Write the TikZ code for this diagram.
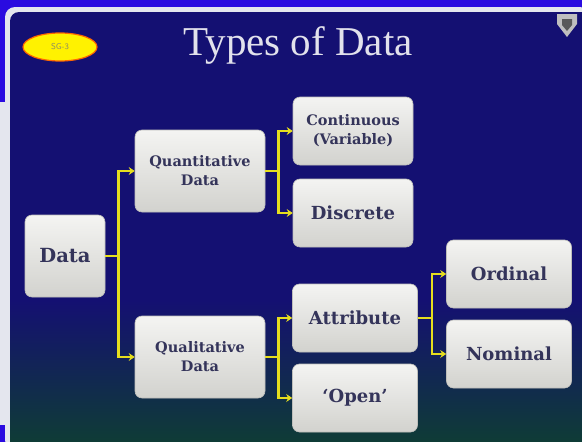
\documentclass[tikz,border=0pt]{standalone}
\usepackage{fontspec}
\setmainfont{Liberation Serif}
\newfontfamily\slabfont{DejaVu Serif}
\usetikzlibrary{arrows.meta,shapes.geometric}

% Kleuren
\definecolor{outerblue}{HTML}{2A0BE0}
\definecolor{framegrey}{HTML}{E4E6EE}
\definecolor{panelnavy}{HTML}{141072}
\definecolor{panelteal}{HTML}{0F3C36}
\definecolor{titlegrey}{HTML}{E2E2EC}
\definecolor{boxtop}{HTML}{F4F4F2}
\definecolor{boxbot}{HTML}{D2D2CE}
\definecolor{boxedge}{HTML}{BEBEBA}
\definecolor{boxtext}{HTML}{34345A}
\definecolor{linkyellow}{HTML}{E6DE1E}

\begin{document}
\begin{tikzpicture}[x=1pt, y=-1pt]
    % Blokken en verbindingen
    \tikzset{box/.style={rectangle, rounded corners=7pt, top color=boxtop, bottom color=boxbot,
                draw=boxedge, line width=0.6pt, text=boxtext, align=center, inner sep=0pt},
             link/.style={draw=linkyellow, line width=2.6pt, -{Stealth[length=6pt,width=8pt]}}}

    \useasboundingbox (0,0) rectangle (582,442);

    % Achtergrond
    \fill[outerblue] (0,0) rectangle (582,442);
    \fill[framegrey] (0,102) rectangle (10,425);
    \fill[framegrey, rounded corners=10pt] (5,7) rectangle (590,450);
    \fill[panelnavy, rounded corners=9pt] (10,12) rectangle (590,450);
    \shade[top color=panelnavy, bottom color=panelteal] (10,300) rectangle (582,442);

    % Titel, badge en icoon
    \node[anchor=base, font=\fontsize{41}{44}\selectfont, text=titlegrey] (title) at (298,55) {Types of Data};
    \node[ellipse, fill=yellow, draw=orange!80!red, line width=1.2pt, minimum width=74pt, minimum height=28pt,
          inner sep=0pt, font=\sffamily\fontsize{8.5}{9}\selectfont, text=gray!70!olive] (badge) at (60,47) {SG-3};
    \fill[gray!50!white] (557,14) -- (577,14) -- (577,24) -- (567,37) -- (557,24) -- cycle;
    \fill[gray!70!black] (562,19) -- (572,19) -- (572,25) -- (567,31) -- (562,25) -- cycle;

    % Boxen
    \node[box, minimum width=80pt, minimum height=82pt, font=\slabfont\bfseries\fontsize{19.5}{22}\selectfont] (data) at (65,256) {Data};
    \node[box, minimum width=130pt, minimum height=82pt, font=\slabfont\bfseries\fontsize{14.5}{19}\selectfont] (quant) at (200,171) {Quantitative\\Data};
    \node[box, minimum width=130pt, minimum height=82pt, font=\slabfont\bfseries\fontsize{14.5}{19}\selectfont] (qual) at (200,357) {Qualitative\\Data};
    \node[box, minimum width=120pt, minimum height=68pt, font=\slabfont\bfseries\fontsize{14.5}{19}\selectfont] (cont) at (353,131) {Continuous\\(Variable)};
    \node[box, minimum width=120pt, minimum height=68pt, font=\slabfont\bfseries\fontsize{18}{21}\selectfont] (disc) at (353,213) {Discrete};
    \node[box, minimum width=125pt, minimum height=68pt, font=\slabfont\bfseries\fontsize{18}{21}\selectfont] (attr) at (355,318) {Attribute};
    \node[box, minimum width=125pt, minimum height=68pt, font=\slabfont\bfseries\fontsize{18}{21}\selectfont] (open) at (355,398) {‘Open’};
    \node[box, minimum width=125pt, minimum height=68pt, font=\slabfont\bfseries\fontsize{18}{21}\selectfont] (ord) at (509,274) {Ordinal};
    \node[box, minimum width=125pt, minimum height=68pt, font=\slabfont\bfseries\fontsize{18}{21}\selectfont] (nom) at (509,354) {Nominal};

    % Verbindingen
    \draw[link] (data.east) -- ++(13,0) |- (quant.west);
    \draw[link] (data.east) -- ++(13,0) |- (qual.west);
    \draw[link] (quant.east) -- ++(13,0) |- (cont.west);
    \draw[link] (quant.east) -- ++(13,0) |- (disc.west);
    \draw[link] (qual.east) -- ++(13,0) |- (attr.west);
    \draw[link] (qual.east) -- ++(13,0) |- (open.west);
    \draw[link] (attr.east) -- ++(14,0) |- (ord.west);
    \draw[link] (attr.east) -- ++(14,0) |- (nom.west);
\end{tikzpicture}
\end{document}
